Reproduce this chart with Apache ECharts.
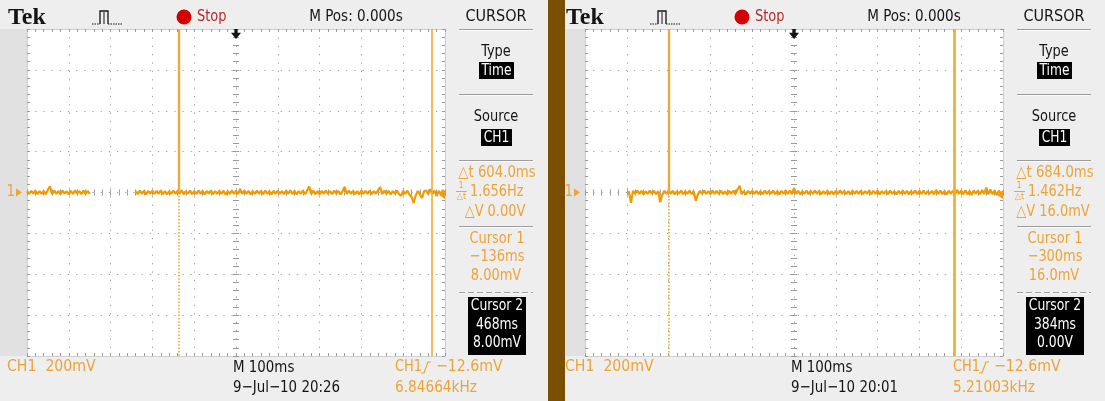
<!DOCTYPE html>
<html><head><meta charset="utf-8">
<script src="https://cdn.jsdelivr.net/npm/echarts@6/dist/echarts.min.js"></script>
<style>html,body{margin:0;padding:0;background:#eeeeee;}#c{width:1105px;height:401px;}</style>
</head><body><div id="c"></div>
<script>
// ---- data (time in ms, voltage in mV) ----
const timeStartMs = -500;
const timeStepMs = 5;
const xRangeMs = [-500, 500];
const yRangeMv = [-800, 800];
const xDivMs = 100;
const yDivMv = 200;
const triggerLevelMv = -12.6;

const leftTraceMv = [
 6,-7,8,-5,9,-8,7,-6,8,-9,
 14,30,-9,10,-6,7,-8,9,-5,6,
 -9,8,-7,11,-6,7,-8,9,-6,8,
 -7,
 null,null,null,null,null,null,null,null,null,null,null,null,null,null,null,null,null,null,null,null,null,
 7,-8,9,-6,8,-10,7,-5,9,-7,
 8,-6,10,-8,7,-9,6,-7,9,-6,
 8,-7,11,-9,7,-6,9,-8,6,-7,
 10,-6,8,-9,7,-5,9,-8,7,-6,
 8,-7,9,-10,6,-7,10,-6,8,-8,
 18,-7,9,-6,8,-9,7,-7,9,-6,
 8,-8,10,-7,6,-9,8,-6,9,-7,
 7,-8,9,-6,11,-7,8,-9,7,-6,
 9,-8,8,30,-7,9,-8,7,-9,8,
 -6,10,-7,7,-8,9,-6,8,-9,7,
 28,-7,9,-6,8,-8,7,-9,10,-6,
 8,-7,9,-8,7,-6,12,26,-8,9,
 -7,8,-9,7,-6,9,-8,-16,8,-7,
 9,-11,-22,-50,-14,8,-9,-26,7,10,
 -8,16,-7,9,-18,8,-9,12,-6
];
const rightTraceMv = [
 null,null,null,null,null,null,null,null,null,null,null,null,null,null,null,null,null,null,null,null,null,
 7,-50,8,-6,9,-7,8,-9,6,-7,
 9,-6,8,-8,7,-48,-11,8,-7,9,
 -6,8,-9,7,-6,10,-8,7,-7,9,
 -8,6,-40,-9,8,-6,9,-7,7,-8,
 10,-6,8,-7,9,-8,6,-9,8,-6,
 9,-7,16,32,-8,7,-9,8,-6,9,
 -7,8,-8,6,-9,10,-7,8,-6,9,
 -8,7,-9,8,-6,11,-7,9,-8,22,
 -7,8,-9,7,-6,9,-8,8,-7,10,
 -6,8,-9,7,-7,9,-8,6,-9,8,
 -7,10,-6,8,-8,7,-9,9,-6,8,
 -7,9,-8,7,-6,10,-8,8,-7,9,
 -9,7,-6,8,-8,9,-7,6,-9,8,
 -6,9,-7,8,-9,7,-6,10,-8,8,
 -7,9,-8,7,-6,8,-9,12,-7,9,
 -8,7,-11,9,-6,8,-10,13,-7,9,
 -8,11,-9,7,-12,10,-6,9,-8,12,
 -7,24,-9,15,-8,10,-13,9,-7,8
];
const leftCursorsMs = [-136, 468];
const rightCursorsMs = [-300, 384];

const leftReadout = { dt:'604.0ms', invDt:'1.656Hz', dv:'0.00V', c1t:'\u2212136ms', c1v:'8.00mV', c2t:'468ms', c2v:'8.00mV', date:'9\u2212Jul\u221210 20:26', trigFreq:'6.84664kHz' };
const rightReadout = { dt:'684.0ms', invDt:'1.462Hz', dv:'16.0mV', c1t:'\u2212300ms', c1v:'16.0mV', c2t:'384ms', c2v:'0.00V', date:'9\u2212Jul\u221210 20:01', trigFreq:'5.21003kHz' };
const headerTexts = { brand:'Tek', state:'Stop', mpos:'M Pos: 0.000s', menu:'CURSOR', type:'Type', typeVal:'Time', source:'Source', sourceVal:'CH1', cursor1:'Cursor 1', cursor2:'Cursor 2', chScale:'CH1  200mV', timebase:'M 100ms', trigCh:'CH1', trigLevel:'\u221212.6mV' };

// ---- styling ----
const TRACE = '#f29b00';
const CURSOR = '#f0a936';
const OTXT = '#eca437';
const DARK = '#141414';
const FONT = "'Liberation Sans Narrow','DejaVu Sans Condensed','Arial Narrow',sans-serif";
const panelDx = [0, 558];
const gridLeft = [27, 585];

function pairs(arr) {
  return arr.map((v, i) => [timeStartMs + i * timeStepMs, v]);
}

const xAxes = [], yAxes = [], grids = [], series = [];
const tickCol = '#9a9a9a';
function baseAxis(g, pos, extra) {
  return Object.assign({
    gridIndex: g, type: 'value', position: pos,
    axisLabel: { show: false },
    axisLine: { show: true, onZero: false, lineStyle: { color: '#cfcfcf', width: 1 } },
    axisTick: { show: true, inside: true, length: 3, lineStyle: { color: tickCol } },
    minorTick: { show: true, splitNumber: 5, length: 3, lineStyle: { color: tickCol } },
    splitLine: { show: false }
  }, extra);
}
[0, 1].forEach(g => {
  grids.push({ left: gridLeft[g], top: 29, width: 418, height: 327, show: true, backgroundColor: '#ffffff', borderWidth: 0 });
  const xr = { min: xRangeMs[0], max: xRangeMs[1], interval: xDivMs };
  const yr = { min: yRangeMv[0], max: yRangeMv[1], interval: yDivMv };
  const xi = xAxes.length, yi = yAxes.length;
  xAxes.push(baseAxis(g, 'bottom', Object.assign({}, xr, { splitLine: { show: true, lineStyle: { color: '#a4a4a4', width: 1, type: [1.3, 7.06] } } })));
  xAxes.push(baseAxis(g, 'top', xr));
  xAxes.push(baseAxis(g, 'bottom', Object.assign({}, xr, { axisLine: { show: false, onZero: true, onZeroAxisIndex: yi }, axisTick: { show: true, inside: true, length: 3, lineStyle: { color: tickCol } } })));
  xAxes.push(baseAxis(g, 'bottom', Object.assign({}, xr, { axisLine: { show: false, onZero: true, onZeroAxisIndex: yi }, axisTick: { show: true, inside: false, length: 3, lineStyle: { color: tickCol } } })));
  yAxes.push(baseAxis(g, 'left', Object.assign({}, yr, { splitLine: { show: true, lineStyle: { color: '#a4a4a4', width: 1, type: [1.3, 6.88] } } })));
  yAxes.push(baseAxis(g, 'right', yr));
  yAxes.push(baseAxis(g, 'left', Object.assign({}, yr, { axisLine: { show: false, onZero: true, onZeroAxisIndex: xi }, axisTick: { show: true, inside: true, length: 3, lineStyle: { color: tickCol } } })));
  yAxes.push(baseAxis(g, 'left', Object.assign({}, yr, { axisLine: { show: false, onZero: true, onZeroAxisIndex: xi }, axisTick: { show: true, inside: false, length: 3, lineStyle: { color: tickCol } } })));

  const trace = g === 0 ? leftTraceMv : rightTraceMv;
  const cur = g === 0 ? leftCursorsMs : rightCursorsMs;
  series.push({
    type: 'line', xAxisIndex: xi, yAxisIndex: yi, data: pairs(trace),
    showSymbol: false, connectNulls: false, clip: true, z: 3,
    lineStyle: { color: TRACE, width: 2.2 },
    markLine: {
      silent: true, symbol: ['none', 'none'], label: { show: false }, animation: false,
      lineStyle: { color: CURSOR, width: 2, type: 'solid' },
      emphasis: { disabled: true },
      data: [
        [{ coord: [cur[0], yRangeMv[1]], lineStyle: { width: 2.4 } }, { coord: [cur[0], 0] }],
        [{ coord: [cur[0], 0], lineStyle: { type: [1.5, 1.8], width: 1.6, color: '#eea530' } }, { coord: [cur[0], yRangeMv[0]] }],
        [{ coord: [cur[1], yRangeMv[1]], lineStyle: { width: g === 0 ? 1.6 : 2.6 } }, { coord: [cur[1], yRangeMv[0]] }]
      ]
    },
    markPoint: {
      silent: true, animation: false, label: { show: false },
      data: [
        { coord: [xRangeMs[0], 0], symbol: 'path://M0,0L10,5L0,10Z', symbolSize: [6, 8], symbolOffset: [-8, 0],
          itemStyle: { color: OTXT }, label: { show: true, formatter: '1', position: 'left', distance: 1, color: OTXT, fontSize: 15, fontFamily: FONT } },
        { coord: [xRangeMs[1], triggerLevelMv], symbol: 'path://M10,0L0,5L10,10Z', symbolSize: [6, 8], symbolOffset: [-3, 0], itemStyle: { color: '#f09a1a' } },
        { coord: [0, yRangeMv[1]], symbol: 'path://M3,0L7,0L7,4L11,4L5,11L-1,4L3,4Z', symbolSize: [10, 10], symbolOffset: [0, 5], itemStyle: { color: DARK } }
      ]
    }
  });
});

function txt(x, y, s, o) {
  o = o || {};
  return { type: 'text', x: x, y: y, z: 20, silent: true, scaleX: o.sx || 0.9,
    style: { text: s, fill: o.fill || DARK, font: o.font || ('16px ' + FONT), align: o.align || 'center', verticalAlign: 'middle' } };
}
function rect(x, y, w, h, fill, z) {
  return { type: 'rect', z: z == null ? 10 : z, silent: true, shape: { x: x, y: y, width: w, height: h }, style: { fill: fill } };
}
function line(x1, y1, x2, y2, stroke, w, dash) {
  return { type: 'line', z: 12, silent: true, shape: { x1: x1, y1: y1, x2: x2, y2: y2 }, style: { stroke: stroke, lineWidth: w || 1, lineDash: dash || null } };
}
function sep(dx, y, dash) {
  return [line(dx + 459, y, dx + 533, y, '#9c9c9c', 1, dash), line(dx + 459, y + 1, dx + 533, y + 1, '#fbfbfb', 1, dash)];
}

const graphics = [];
graphics.push(rect(548, 0, 17, 401, '#7a5000', -5));
[0, 1].forEach(g => {
  const dx = panelDx[g];
  const r = g === 0 ? leftReadout : rightReadout;
  graphics.push(rect(dx + (g === 0 ? 0 : 7), 29, g === 0 ? 27 : 20, 327, '#e1e1e1', -5));
  graphics.push(txt(dx + 8, 18, headerTexts.brand, { align: 'left', sx: 1, font: 'bold 24px "Liberation Serif", serif' }));
  // pulse (acquire) icon
  graphics.push({ type: 'polyline', z: 12, silent: true, shape: { points: [[dx + 100, 24], [dx + 100, 11], [dx + 108, 11], [dx + 108, 24]] }, style: { stroke: DARK, lineWidth: 1.3, fill: null } });
  graphics.push(line(dx + 104, 12, dx + 104, 24, DARK, 1));
  graphics.push(line(dx + 92, 24, dx + 100, 24, DARK, 1.2, [1.5, 1]));
  graphics.push(line(dx + 108, 24, dx + 122, 24, DARK, 1.2, [1.5, 1]));
  graphics.push({ type: 'circle', z: 12, silent: true, shape: { cx: dx + 184, cy: 17, r: 7.5 }, style: { fill: '#d30000' } });
  graphics.push(txt(dx + 197, 17, headerTexts.state, { align: 'left', fill: '#b3292b' }));
  graphics.push(txt(dx + 356, 17, headerTexts.mpos, { sx: 0.94 }));
  graphics.push(txt(dx + 496, 17, headerTexts.menu, { sx: 1 }));
  // menu
  graphics.push(...sep(dx, 29.5));
  graphics.push(txt(dx + 496, 52, headerTexts.type));
  graphics.push(rect(dx + 479, 62, 35, 17, '#000'));
  graphics.push(txt(dx + 496.5, 70.5, headerTexts.typeVal, { fill: '#fff', sx: 0.85 }));
  graphics.push(...sep(dx, 94.5));
  graphics.push(txt(dx + 496, 117, headerTexts.source));
  graphics.push(rect(dx + 481, 129, 31, 17, '#000'));
  graphics.push(txt(dx + 496.5, 137.5, headerTexts.sourceVal, { fill: '#fff', sx: 0.85 }));
  graphics.push(...sep(dx, 160.5));
  graphics.push(txt(dx + 497, 173, '\u25B3t ' + r.dt, { fill: OTXT, sx: 0.92 }));
  graphics.push(txt(dx + 461, 186, '1', { fill: OTXT, font: '9px ' + FONT, sx: 1 }));
  graphics.push(line(dx + 456, 191.5, dx + 467, 191.5, OTXT, 1));
  graphics.push(txt(dx + 461.5, 197, '\u25B3t', { fill: OTXT, font: '9px ' + FONT, sx: 1 }));
  graphics.push(txt(dx + 470, 192, r.invDt, { fill: OTXT, align: 'left' }));
  graphics.push(txt(dx + 495, 212, '\u25B3V ' + r.dv, { fill: OTXT }));
  graphics.push(...sep(dx, 226.5));
  graphics.push(txt(dx + 497, 239, headerTexts.cursor1, { fill: OTXT }));
  graphics.push(txt(dx + 497, 257, r.c1t, { fill: OTXT }));
  graphics.push(txt(dx + 496, 276, r.c1v, { fill: OTXT }));
  graphics.push(...sep(dx, 292.5, [6, 3]));
  graphics.push(rect(dx + 468, 297, 58, 58, '#000'));
  graphics.push(txt(dx + 497, 306, headerTexts.cursor2, { fill: '#fff', sx: 0.86 }));
  graphics.push(txt(dx + 497, 325, r.c2t, { fill: '#fff', sx: 0.86 }));
  graphics.push(txt(dx + 497, 343, r.c2v, { fill: '#fff', sx: 0.86 }));
  // bottom status
  graphics.push(txt(dx + 7, 367, headerTexts.chScale, { fill: OTXT, align: 'left', sx: 0.98 }));
  graphics.push(txt(dx + 233, 368, headerTexts.timebase, { align: 'left', sx: 0.93 }));
  graphics.push(txt(dx + 233, 388, r.date, { align: 'left', sx: 0.93 }));
  graphics.push(txt(dx + 395, 367, headerTexts.trigCh, { fill: OTXT, align: 'left' }));
  graphics.push({ type: 'polyline', z: 12, silent: true, shape: { points: [[dx + 421, 373], [dx + 424, 373], [dx + 428, 362], [dx + 431, 362]] }, style: { stroke: OTXT, lineWidth: 1.2, fill: null } });
  graphics.push(txt(dx + 436, 367, headerTexts.trigLevel, { fill: OTXT, align: 'left', sx: 0.98 }));
  graphics.push(txt(dx + 395, 388, r.trigFreq, { fill: OTXT, align: 'left', sx: 0.95 }));
});

const chart = echarts.init(document.getElementById('c'), null, { renderer: 'canvas' });
chart.setOption({
  animation: false,
  backgroundColor: '#eeeeee',
  grid: grids, xAxis: xAxes, yAxis: yAxes, series: series,
  graphic: { elements: graphics }
});
</script></body></html>
